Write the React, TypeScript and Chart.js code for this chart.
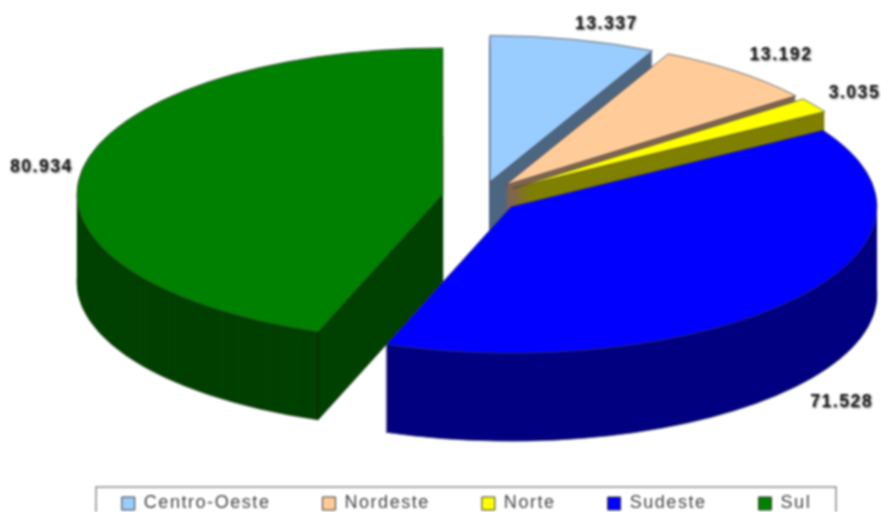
import React, { useEffect, useRef } from "react";
import { Chart, registerables } from "chart.js";

Chart.register(...registerables);

const categories = ["Centro-Oeste", "Nordeste", "Norte", "Sudeste", "Sul"];
const values = [13.337, 13.192, 3.035, 71.528, 80.934];
const topColors = ["#99CCFF", "#FFCC99", "#FFFF00", "#0000FF", "#008000"];
const wallColors = ["#4D6680", "#806650", "#808000", "#000080", "#004000"];
const drawOrder = [0, 1, 2, 4, 3];
const labelNudge = [[33, -15], [43, -17], [40, -12], [47, 103], [-41, -2]];

const CENTER_X = 481;
const CENTER_Y = 197;
const RADIUS = 366;
const SQUASH = 0.4;
const DEPTH = 88;
const EXPLODE = 38.7;
const LEGEND_FRAME = { left: 96, top: 487, right: 836, bottom: 514 };

const pie3d = {
  id: "pie3d",
  beforeUpdate(chart: any) {
    chart.ctx.letterSpacing = "1.55px";
  },
  afterLayout(chart: any) {
    const legend = chart.legend;
    legend.left += 26;
    legend.right += 26;
    legend.top = 442.5;
  },
  beforeDraw(chart: any) {
    const ctx = chart.ctx;
    const f = LEGEND_FRAME;
    ctx.save();
    ctx.fillStyle = "#ffffff";
    ctx.strokeStyle = "#8a8a8a";
    ctx.lineWidth = 1.5;
    ctx.fillRect(f.left, f.top, f.right - f.left, f.bottom - f.top);
    ctx.strokeRect(f.left, f.top, f.right - f.left, f.bottom - f.top);
    ctx.restore();
  },
  beforeDatasetsDraw(chart: any) {
    const ctx = chart.ctx;
    const arcs = chart.getDatasetMeta(0).data;
    const place = (arc: any, dy: number) => {
      const mid = (arc.startAngle + arc.endAngle) / 2;
      ctx.setTransform(1, 0, 0, 1, 0, 0);
      ctx.translate(CENTER_X, CENTER_Y + dy);
      ctx.scale(1, SQUASH);
      ctx.translate(Math.cos(mid) * EXPLODE - arc.x, Math.sin(mid) * EXPLODE - arc.y);
    };
    const paint = (arc: any, overrides: any) => {
      const base = arc.options;
      arc.options = Object.assign(Object.create(base), overrides);
      arc.draw(ctx);
      arc.options = base;
    };
    ctx.save();
    for (const i of drawOrder) {
      const arc = arcs[i];
      const wall = wallColors[i];
      place(arc, DEPTH);
      paint(arc, { backgroundColor: wall, borderColor: "#555555", borderWidth: 1 });
      for (let d = DEPTH - 1; d > 0; d--) {
        place(arc, d);
        paint(arc, { backgroundColor: wall, borderWidth: 0 });
      }
      place(arc, 0);
      ctx.strokeStyle = "rgba(0,0,0,0.55)";
      ctx.lineWidth = 1;
      for (const a of [arc.startAngle, arc.endAngle]) {
        if (Math.sin(a) <= 0) continue;
        const px = arc.x + Math.cos(a) * arc.outerRadius;
        const py = arc.y + Math.sin(a) * arc.outerRadius;
        ctx.beginPath();
        ctx.moveTo(px, py);
        ctx.lineTo(px, py + DEPTH / SQUASH);
        ctx.stroke();
      }
      paint(arc, {});
    }
    ctx.restore();
    ctx.save();
    ctx.font = "bold 17.5px 'Liberation Sans'";
    ctx.textAlign = "center";
    ctx.textBaseline = "middle";
    ctx.fillStyle = "#1a1a1a";
    ctx.shadowColor = "rgba(0,0,0,0.55)";
    ctx.shadowBlur = 2;
    ctx.shadowOffsetX = 1;
    ctx.shadowOffsetY = 1;
    arcs.forEach((arc: any, i: number) => {
      const mid = (arc.startAngle + arc.endAngle) / 2;
      const r = arc.outerRadius + EXPLODE;
      const x = CENTER_X + Math.cos(mid) * r + labelNudge[i][0];
      const y = CENTER_Y + Math.sin(mid) * r * SQUASH + labelNudge[i][1];
      ctx.fillText(values[i].toFixed(3), x, y);
    });
    ctx.restore();
    return false;
  },
};

export default function App() {
  const ref = useRef<HTMLCanvasElement>(null);
  useEffect(() => {
    const chart = new Chart(ref.current as HTMLCanvasElement, {
      type: "pie",
      plugins: [pie3d as any],
      data: {
        labels: categories,
        datasets: [
          {
            data: values,
            backgroundColor: topColors,
            borderColor: "#3a3a3a",
            borderWidth: 1,
          },
        ],
      },
      options: {
        responsive: false,
        animation: false,
        radius: RADIUS,
        plugins: {
          tooltip: { enabled: false },
          legend: {
            position: "bottom",
            labels: {
              boxWidth: 13,
              boxHeight: 13,
              padding: 52,
              color: "#444444",
              font: { family: "'Liberation Sans'", size: 18 },
            },
          },
        },
      } as any,
    });
    return () => chart.destroy();
  }, []);
  return (
    <div style={{ position: "absolute", left: 0, top: 0, width: 881, height: 512, overflow: "hidden" }}>
      <canvas ref={ref} width={881} height={512} style={{ display: "block", filter: "blur(0.9px)" }} />
    </div>
  );
}
